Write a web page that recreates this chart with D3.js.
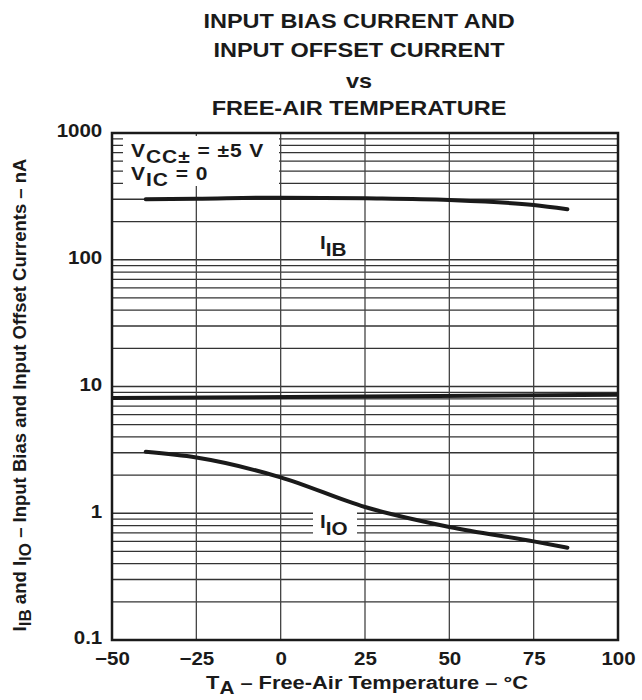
<!DOCTYPE html>
<html><head><meta charset="utf-8">
<script src="https://cdn.jsdelivr.net/npm/d3@7"></script>
<style>
body{margin:0;background:#fff;}
text{font-family:"Liberation Sans",Arial,Helvetica,sans-serif;font-weight:bold;fill:#1a1a1a;}
</style></head>
<body><svg id="chart" width="642" height="700"></svg>
<script>
// ---- data ----
const titleLines = ["INPUT BIAS CURRENT AND","INPUT OFFSET CURRENT","vs","FREE-AIR TEMPERATURE"];
const xTicks = [-50,-25,0,25,50,75,100];
const xTickLabels = ["\u221250","\u221225","0","25","50","75","100"];
const yTicks = [0.1,1,10,100,1000];
const yTickLabels = ["0.1","1","10","100","1000"];
const tempIB = [-40,-25,0,25,50,75,85];
const valIB  = [300,303,309,305,296,270,250];
const tempIO = [-40,-25,0,25,50,75,85];
const valIO  = [3.05,2.75,1.92,1.12,0.78,0.60,0.535];
const tempFlat = [-50,100];
const valFlat  = [8.1,8.6];

const svg = d3.select("#chart");
const L=112,R=618,T=133,B=640;
const x = d3.scaleLinear().domain([-50,100]).range([L,R]);
const y = d3.scaleLog().domain([0.1,1000]).range([B,T]);

// helper: text group placed at (px,py), horizontally scaled by sx
function tg(px,py,sx,size,anchor){
  return svg.append("g").attr("transform",`translate(${px},${py}) scale(${sx},1)`)
    .append("text").attr("text-anchor",anchor||"start").attr("font-size",size);
}

// title
const titleY=[28,57,88,115];
titleLines.forEach((t,i)=>tg(359,titleY[i],1.12,21,"middle").text(t));

// grid
const g = svg.append("g");
const hLines=[];
[0.1,1,10,100].forEach(d=>{for(let m=1;m<=9;m++){const v=m*d; if(v>0.1&&v<1000) hLines.push(v);}});
g.selectAll("line.h").data(hLines).join("line").attr("class","h")
 .attr("x1",L).attr("x2",R).attr("y1",d=>y(d)).attr("y2",d=>y(d))
 .attr("stroke","#333").attr("stroke-width",1.3);
g.selectAll("line.v").data(xTicks.slice(1,-1)).join("line").attr("class","v")
 .attr("x1",d=>x(d)).attr("x2",d=>x(d)).attr("y1",T).attr("y2",B)
 .attr("stroke","#444").attr("stroke-width",1.3);

// legend box and label backgrounds
svg.append("rect").attr("x",123).attr("y",136).attr("width",156).attr("height",50).attr("fill","#fff");
svg.append("rect").attr("x",313).attr("y",510).attr("width",44).attr("height",28).attr("fill","#fff");

// frame
svg.append("rect").attr("x",L).attr("y",T).attr("width",R-L).attr("height",B-T)
 .attr("fill","none").attr("stroke","#1a1a1a").attr("stroke-width",2.5);

// curves
const line = d3.line().x(d=>x(d[0])).y(d=>y(d[1])).curve(d3.curveMonotoneX);
const drawSeries=(xs,vs)=>svg.append("path").datum(xs.map((t,i)=>[t,vs[i]]))
 .attr("d",line).attr("fill","none").attr("stroke","#1a1a1a").attr("stroke-width",4).attr("stroke-linecap","round");
drawSeries(tempIB,valIB);
drawSeries(tempIO,valIO);
drawSeries(tempFlat,valFlat).attr("stroke-linecap","butt");

// axes
const xAxis = d3.axisBottom(x).tickValues(xTicks).tickSize(0).tickPadding(12)
  .tickFormat((d,i)=>xTickLabels[i]);
const ax = svg.append("g").attr("transform",`translate(0,${B})`).call(xAxis);
ax.select(".domain").remove();
ax.selectAll("text").attr("font-size",19).attr("fill","#1a1a1a")
  .attr("font-family","Liberation Sans, Arial, sans-serif").attr("font-weight","bold")
  .attr("transform","scale(1.08,1)");
const yAxis = d3.axisLeft(y).tickValues(yTicks).tickSize(0).tickPadding(9)
  .tickFormat((d,i)=>yTickLabels[i]);
const ay = svg.append("g").attr("transform",`translate(${L},0)`).call(yAxis);
ay.select(".domain").remove();
ay.selectAll("text").attr("font-size",19).attr("fill","#1a1a1a").attr("dy","0.2em")
  .attr("font-family","Liberation Sans, Arial, sans-serif").attr("font-weight","bold")
  .attr("transform","scale(1.08,1)");

// x title
const xt = tg(367,689,1.15,19,"middle");
xt.append("tspan").text("T");
xt.append("tspan").attr("dy",5).attr("font-size",18).text("A");
xt.append("tspan").attr("dy",-5).text(" \u2013 Free-Air Temperature \u2013 \u00B0C");

// y title
const yt = svg.append("text").attr("transform","translate(26,395) rotate(-90)").attr("text-anchor","middle").attr("font-size",18.5);
yt.append("tspan").text("I");
yt.append("tspan").attr("dy",5).attr("font-size",17).text("IB");
yt.append("tspan").attr("dy",-5).text(" and I");
yt.append("tspan").attr("dy",5).attr("font-size",17).text("IO");
yt.append("tspan").attr("dy",-5).text(" \u2013 Input Bias and Input Offset Currents \u2013 nA");

// legend text
const l1 = tg(131,157,1.2,17.5,"start").attr("letter-spacing",0.8);
l1.append("tspan").text("V");
l1.append("tspan").attr("dy",6).attr("font-size",17.5).text("CC\u00B1");
l1.append("tspan").attr("dy",-6).text(" = \u00B15 V");
const l2 = tg(131,180,1.2,17.5,"start").attr("letter-spacing",0.8);
l2.append("tspan").text("V");
l2.append("tspan").attr("dy",6).attr("font-size",17.5).text("IC");
l2.append("tspan").attr("dy",-6).text(" = 0");

// curve labels
const lb = tg(320,249,1.15,18,"start");
lb.append("tspan").text("I");
lb.append("tspan").attr("dy",7).attr("font-size",18).text("IB");
const lo = tg(320,528,1.15,18,"start");
lo.append("tspan").text("I");
lo.append("tspan").attr("dy",7).attr("font-size",18).text("IO");
</script></body></html>
